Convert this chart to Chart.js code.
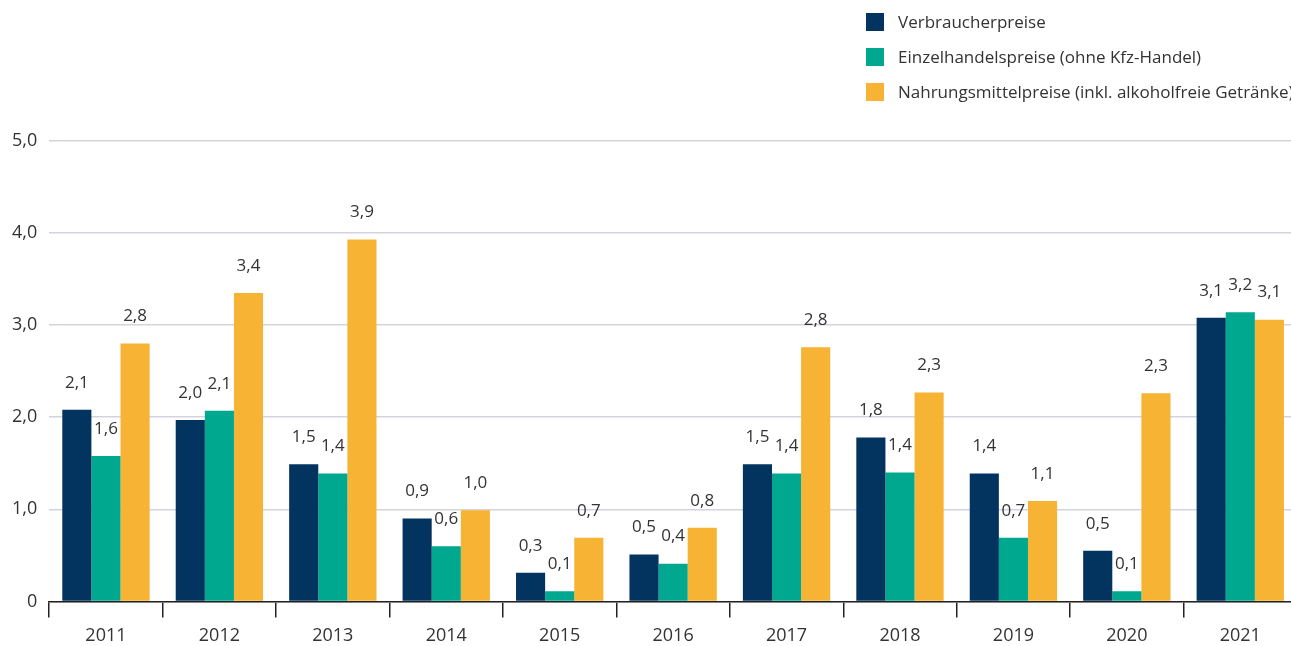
<!DOCTYPE html>
<html lang="de">
<head>
<meta charset="utf-8">
<script src="https://cdn.jsdelivr.net/npm/chart.js@4"></script>
<style>
  html, body { margin: 0; padding: 0; background: #fff; overflow: hidden; }
  body { width: 1291px; height: 646px; position: relative; font-family: "Open Sans", sans-serif; }
  #wrap { position: absolute; left: 0; top: 0; width: 1297px; height: 655px; }
  #legend { position: absolute; left: 866px; top: 11px; white-space: nowrap; }
  .item { height: 35px; display: flex; align-items: flex-start; font-size: 17px; color: #333; }
  .box { width: 18px; height: 18px; margin-top: 2px; margin-right: 14px; flex: none; }
  .txt { line-height: 24px; margin-top: -1px; }
</style>
</head>
<body>
<div id="wrap"><canvas id="preisChart"></canvas></div>
<div id="legend"></div>
<script>
// ===============================
// DONNEES
// ===============================

const jahre = ['2011','2012','2013','2014','2015','2016','2017','2018','2019','2020','2021'];

const serien = [
    'Verbraucherpreise',
    'Einzelhandelspreise (ohne Kfz-Handel)',
    'Nahrungsmittelpreise (inkl. alkoholfreie Getränke)'
];

// hauteurs des barres
const verbraucher = [2.08, 1.97, 1.49, 0.90, 0.31, 0.51, 1.49, 1.78, 1.39, 0.55, 3.08];
const einzelhandel = [1.58, 2.07, 1.39, 0.60, 0.11, 0.41, 1.39, 1.40, 0.69, 0.11, 3.14];
const nahrung = [2.80, 3.35, 3.93, 0.99, 0.69, 0.80, 2.76, 2.27, 1.09, 2.26, 3.06];

// valeurs affichées au-dessus des barres
const verbraucherTxt = ['2,1','2,0','1,5','0,9','0,3','0,5','1,5','1,8','1,4','0,5','3,1'];
const einzelhandelTxt = ['1,6','2,1','1,4','0,6','0,1','0,4','1,4','1,4','0,7','0,1','3,2'];
const nahrungTxt = ['2,8','3,4','3,9','1,0','0,7','0,8','2,8','2,3','1,1','2,3','3,1'];

const yTicks = [0, 1, 2, 3, 4, 5];

const colors = ['#02345f', '#00a88f', '#f7b334'];

// ===============================
// GRAPHIQUE
// ===============================

const fmt = v => v.toFixed(1).replace('.', ',');
const texts = [verbraucherTxt, einzelhandelTxt, nahrungTxt];

const valueLabels = {
    id: 'valueLabels',
    afterDatasetsDraw(chart) {
        const ctx = chart.ctx;
        ctx.save();
        ctx.font = '17px "Open Sans"';
        ctx.fillStyle = '#333';
        ctx.textAlign = 'center';
        ctx.textBaseline = 'middle';
        chart.data.datasets.forEach((ds, i) => {
            chart.getDatasetMeta(i).data.forEach((bar, j) => {
                ctx.fillText(texts[i][j], bar.x, bar.y - 27);
            });
        });
        ctx.restore();
    }
};

new Chart(document.getElementById('preisChart'), {
    type: 'bar',
    data: {
        labels: jahre,
        datasets: [verbraucher, einzelhandel, nahrung].map((d, i) => ({
            label: serien[i],
            data: d,
            backgroundColor: colors[i],
            categoryPercentage: 0.77,
            barPercentage: 1
        }))
    },
    options: {
        responsive: true,
        maintainAspectRatio: false,
        animation: false,
        layout: { padding: { top: 141, left: 0, right: 0, bottom: 0 } },
        plugins: {
            legend: { display: false },
            tooltip: { enabled: false }
        },
        scales: {
            x: {
                grid: {
                    display: true,
                    drawOnChartArea: false,
                    drawTicks: true,
                    tickLength: 16,
                    color: '#222',
                    lineWidth: 1.5,
                    offset: true
                },
                border: { display: true, color: '#222', width: 1.5 },
                ticks: { color: '#333', padding: 8, font: { family: 'Open Sans', size: 18 } }
            },
            y: {
                min: 0,
                max: 5,
                afterBuildTicks: axis => { axis.ticks = yTicks.map(v => ({ value: v })); },
                grid: { color: '#d3d3e0', lineWidth: 1.5, drawTicks: false },
                border: { display: false },
                ticks: {
                    color: '#333',
                    padding: 12,
                    font: { family: 'Open Sans', size: 18 },
                    callback: v => v === 0 ? '0' : fmt(v)
                }
            }
        }
    },
    plugins: [valueLabels]
});

// légende
document.getElementById('legend').innerHTML = serien.map((s, i) =>
    '<div class="item"><span class="box" style="background:' + colors[i] + '"></span><span class="txt">' + s + '</span></div>'
).join('');
</script>
</body>
</html>
